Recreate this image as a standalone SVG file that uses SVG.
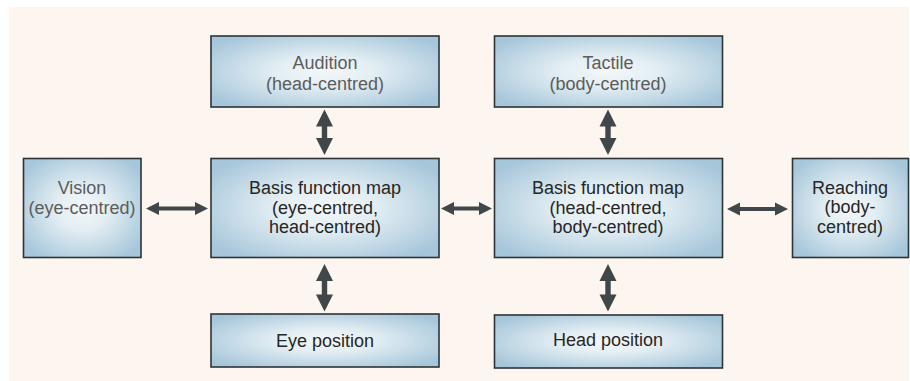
<svg xmlns="http://www.w3.org/2000/svg" width="910" height="381" viewBox="0 0 910 381">
<defs>
<radialGradient id="g" cx="0.5" cy="0.5" r="0.62">
<stop offset="0" stop-color="#f3f7f9"/>
<stop offset="0.35" stop-color="#e3eef3"/>
<stop offset="1" stop-color="#a6c6da"/>
</radialGradient>
<style>
.box{fill:url(#g);stroke:#2e3436;stroke-width:1.6}
text{font-family:"Liberation Sans",Arial,Helvetica,sans-serif;font-size:18px;text-anchor:middle}
.lt{fill:#5c5c5c}
.dk{fill:#262626}
.arr{fill:#3f4749}
</style>
</defs>
<rect x="0" y="0" width="910" height="381" fill="#ffffff"/>
<rect x="9" y="7" width="900" height="374" fill="#fdf5ef"/>

<g id="audition">
<rect class="box" x="211" y="36" width="228" height="71"/>
<text class="lt" x="325" y="69">Audition</text>
<text class="lt" x="325" y="89.5">(head-centred)</text>
</g>
<g id="tactile">
<rect class="box" x="494.5" y="36" width="228" height="71"/>
<text class="lt" x="608" y="69">Tactile</text>
<text class="lt" x="608" y="89.5">(body-centred)</text>
</g>
<g id="vision">
<rect class="box" x="23.5" y="158.5" width="117.5" height="99"/>
<text class="lt" x="82" y="194">Vision</text>
<text class="lt" x="82" y="213.5">(eye-centred)</text>
</g>
<g id="basis1">
<rect class="box" x="211" y="158.5" width="228" height="99"/>
<text class="dk" x="325" y="194">Basis function map</text>
<text class="dk" x="325" y="213.5">(eye-centred,</text>
<text class="dk" x="325" y="233">head-centred)</text>
</g>
<g id="basis2">
<rect class="box" x="494.5" y="158.5" width="228" height="99"/>
<text class="dk" x="608" y="194">Basis function map</text>
<text class="dk" x="608" y="213.5">(head-centred,</text>
<text class="dk" x="608" y="233">body-centred)</text>
</g>
<g id="reaching">
<rect class="box" x="792.5" y="158.5" width="116" height="99"/>
<text class="dk" x="850" y="193.5">Reaching</text>
<text class="dk" x="850" y="213">(body-</text>
<text class="dk" x="850" y="232.5">centred)</text>
</g>
<g id="eyepos">
<rect class="box" x="211" y="314" width="228" height="53"/>
<text class="dk" x="325" y="347">Eye position</text>
</g>
<g id="headpos">
<rect class="box" x="494.5" y="315" width="228" height="53"/>
<text class="dk" x="608" y="346">Head position</text>
</g>

<g id="connectors" class="arr">
<!-- vertical: x, y1..y2, head 17, half width 8.5, shaft 2.7 -->
<polygon points="324.5,109.5 333,126.5 327.2,126.5 327.2,138 333,138 324.5,155 316,138 321.8,138 321.8,126.5 316,126.5"/>
<polygon points="324.5,264 333,281 327.2,281 327.2,294.5 333,294.5 324.5,311.5 316,294.5 321.8,294.5 321.8,281 316,281"/>
<polygon points="608,109.5 616.5,126.5 610.7,126.5 610.7,138 616.5,138 608,155 599.5,138 605.3,138 605.3,126.5 599.5,126.5"/>
<polygon points="608,264 616.5,281 610.7,281 610.7,294.5 616.5,294.5 608,311.5 599.5,294.5 605.3,294.5 605.3,281 599.5,281"/>
<!-- horizontal: head 13, half width 6.5, shaft 2 -->
<polygon points="146,208.5 159,202 159,206.5 195,206.5 195,202 208,208.5 195,215 195,210.5 159,210.5 159,215"/>
<polygon points="441,208.5 454,202 454,206.5 479,206.5 479,202 492,208.5 479,215 479,210.5 454,210.5 454,215"/>
<polygon points="727,209 740,202.5 740,207 775,207 775,202.5 788,209 775,215.5 775,211 740,211 740,215.5"/>
</g>
</svg>
